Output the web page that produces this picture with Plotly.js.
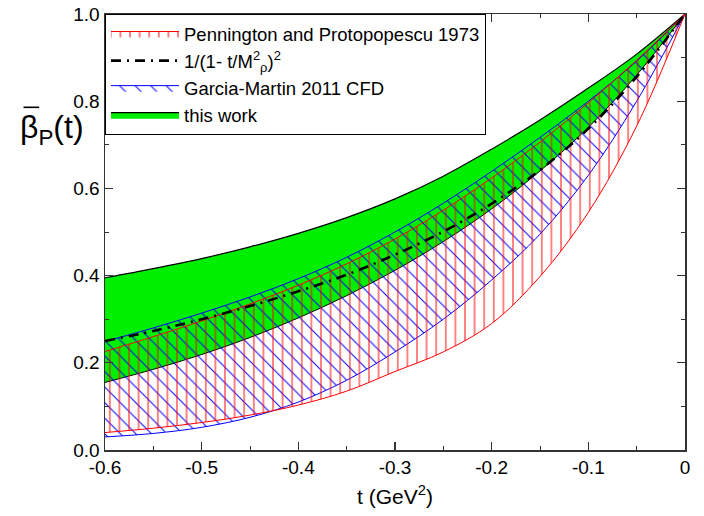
<!DOCTYPE html>
<html>
<head>
<meta charset="utf-8">
<script src="https://cdn.plot.ly/plotly-3.0.1.min.js"></script>
<style>html,body{margin:0;padding:0;background:#fff;}#chart{width:704px;height:516px;}</style>
</head>
<body>
<div id="chart"></div>
<script>
// momentum transfer t (GeV^2)
const t = [-0.6, -0.55, -0.5, -0.45, -0.4, -0.35, -0.3, -0.25, -0.2, -0.15, -0.1, -0.05, 0];
// Pennington and Protopopescu 1973 band
const penningtonLow  = [0.040, 0.050, 0.063, 0.080, 0.103, 0.135, 0.180, 0.225, 0.290, 0.398, 0.545, 0.743, 1.0];
const penningtonHigh = [0.226, 0.260, 0.296, 0.335, 0.378, 0.427, 0.484, 0.550, 0.624, 0.706, 0.796, 0.894, 1.0];
// 1/(1 - t/M_rho^2)^2 curve
const rhoDipole      = [0.250, 0.273, 0.300, 0.330, 0.364, 0.402, 0.448, 0.501, 0.565, 0.642, 0.737, 0.856, 1.0];
// Garcia-Martin 2011 CFD band
const garciaLow      = [0.030, 0.038, 0.052, 0.075, 0.110, 0.160, 0.225, 0.300, 0.390, 0.495, 0.630, 0.800, 1.0];
const garciaHigh     = [0.249, 0.280, 0.314, 0.351, 0.393, 0.442, 0.500, 0.566, 0.639, 0.717, 0.800, 0.892, 1.0];
// this work band
const thisWorkLow    = [0.155, 0.185, 0.219, 0.258, 0.303, 0.354, 0.412, 0.478, 0.553, 0.640, 0.740, 0.860, 1.0];
const thisWorkHigh   = [0.395, 0.416, 0.439, 0.466, 0.497, 0.533, 0.576, 0.628, 0.690, 0.757, 0.830, 0.908, 1.0];

const xTickVals = [-0.6, -0.5, -0.4, -0.3, -0.2, -0.1, 0];
const xTickText = ['-0.6', '-0.5', '-0.4', '-0.3', '-0.2', '-0.1', '0'];
const yTickVals = [0, 0.2, 0.4, 0.6, 0.8, 1.0];
const yTickText = ['0.0', '0.2', '0.4', '0.6', '0.8', '1.0'];

const FONT = 'Liberation Sans, Arial, sans-serif';
const clear = 'rgba(255,255,255,0)';
const sp = {shape: 'spline', smoothing: 1};

const traces = [
  {x: t, y: thisWorkLow, type: 'scatter', mode: 'lines', line: Object.assign({color: '#000', width: 1}, sp), showlegend: false, hoverinfo: 'skip'},
  {x: t, y: thisWorkHigh, type: 'scatter', mode: 'lines', fill: 'tonexty', fillcolor: '#00ee00',
   line: Object.assign({color: '#000', width: 1.2}, sp), name: 'this work', legendrank: 4},
  {x: t, y: garciaLow, type: 'scatter', mode: 'lines', line: Object.assign({color: 'blue', width: 1}, sp), showlegend: false, hoverinfo: 'skip'},
  {x: t, y: garciaHigh, type: 'scatter', mode: 'lines', fill: 'tonexty', fillcolor: clear,
   fillpattern: {shape: '\\', fgcolor: 'blue', bgcolor: clear, size: 11, solidity: 0.09},
   line: Object.assign({color: 'blue', width: 1}, sp), name: 'Garcia-Martin 2011 CFD', legendrank: 3},
  {x: t, y: penningtonLow, type: 'scatter', mode: 'lines', line: Object.assign({color: 'red', width: 1}, sp), showlegend: false, hoverinfo: 'skip'},
  {x: t, y: penningtonHigh, type: 'scatter', mode: 'lines', fill: 'tonexty', fillcolor: clear,
   fillpattern: {shape: '|', fgcolor: 'red', bgcolor: clear, size: 9.6, solidity: 0.1},
   line: Object.assign({color: 'red', width: 1}, sp), name: 'Pennington and Protopopescu 1973', legendrank: 1},
  {x: t, y: rhoDipole, type: 'scatter', mode: 'lines', line: Object.assign({color: '#000', width: 2.6, dash: '10px,6px,2px,6px'}, sp),
   name: '1/(1- t/M<sup>2</sup><sub>ρ</sub>)<sup>2</sup>', legendrank: 2}
];

const axisCommon = {
  showgrid: false, zeroline: false, showline: true, linecolor: '#333', linewidth: 1.5,
  mirror: 'allticks', ticks: 'inside', ticklen: 8, tickwidth: 1.3, tickcolor: '#333',
  tickfont: {family: FONT, size: 19, color: '#000'}
};

const layout = {
  width: 704, height: 516,
  margin: {l: 105, r: 19, t: 14, b: 66, pad: 0},
  paper_bgcolor: '#fff', plot_bgcolor: '#fff',
  font: {family: FONT, color: '#000'},
  xaxis: Object.assign({}, axisCommon, {
    range: [-0.6, 0], tickmode: 'array', tickvals: xTickVals, ticktext: xTickText,
    minor: {dtick: 0.05, ticks: 'inside', ticklen: 4, tickcolor: '#333', tickwidth: 1},
    title: {text: 't (GeV<sup>2</sup>)', font: {family: FONT, size: 21, color: '#000'}, standoff: 12}
  }),
  yaxis: Object.assign({}, axisCommon, {
    range: [0, 1], tickmode: 'array', tickvals: yTickVals, ticktext: yTickText,
    minor: {dtick: 0.1, ticks: 'inside', ticklen: 4, tickcolor: '#333', tickwidth: 1}
  }),
  legend: {
    x: 0, y: 1, xanchor: 'left', yanchor: 'top',
    bgcolor: '#fff', bordercolor: '#000', borderwidth: 1,
    font: {family: FONT, size: 18.5, color: '#000'},
    itemwidth: 68, traceorder: 'normal'
  },
  annotations: [{
    xref: 'paper', yref: 'paper', x: -0.032, y: 0.735, xanchor: 'right', yanchor: 'middle',
    showarrow: false, text: 'β<sub>P</sub>(t)', font: {family: FONT, size: 32, color: '#000'}
  }],
  shapes: [{
    type: 'line', xref: 'paper', yref: 'paper', x0: -0.1405, x1: -0.1135, y0: 0.786, y1: 0.786,
    line: {color: '#000', width: 1.6}
  }],
  showlegend: true
};

Plotly.newPlot('chart', traces, layout, {displayModeBar: false, staticPlot: true});
</script>
</body>
</html>
